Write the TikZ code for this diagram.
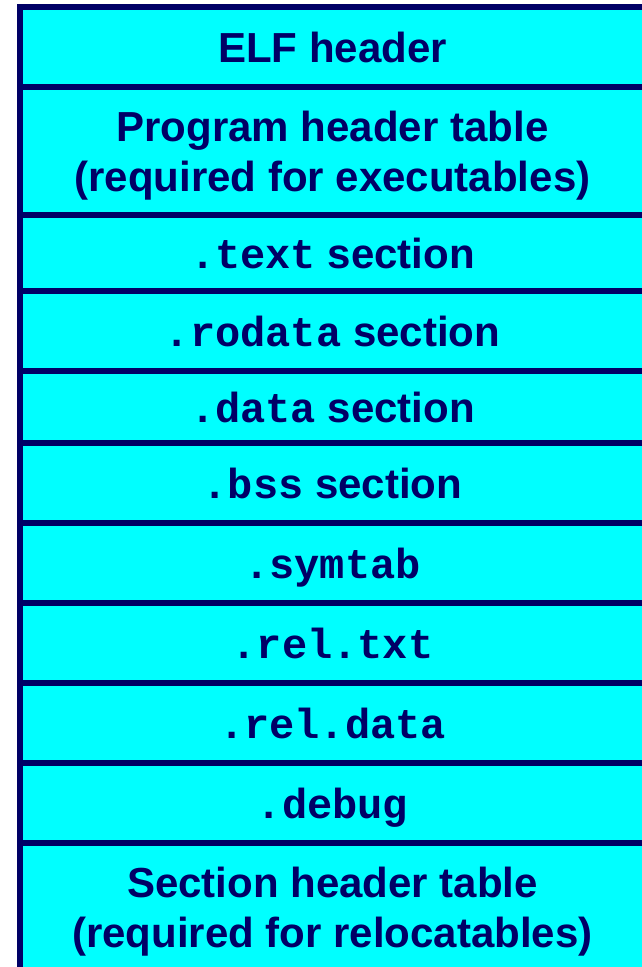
\documentclass[tikz,border=0pt]{standalone}
\usepackage{fontspec}
\setmainfont{Liberation Sans}
\setmonofont{Liberation Mono}
\usetikzlibrary{positioning}
\definecolor{elfnavy}{RGB}{0,0,102}
\definecolor{elfcyan}{RGB}{0,255,255}
\tikzset{
  row/.style={draw=elfnavy, fill=elfcyan, line width=6pt, outer sep=0pt,
    inner sep=0pt, minimum width=625pt, text=elfnavy, align=center,
    text depth=0pt, font=\fontsize{42}{50}\selectfont\bfseries},
}
\begin{document}
\begin{tikzpicture}[x=1pt, y=-1pt]
      \useasboundingbox (0,0) rectangle (641,967);
      \node[row, minimum height=80pt, anchor=north west] (elf) at (20,7) {ELF header};
      \node[row, minimum height=128pt, below=0pt of elf] (pht)
        {Program header table\\(required for executables)};
      \node[row, minimum height=76pt, below=0pt of pht] (text) {{\ttfamily .text} section};
      \node[row, minimum height=80pt, below=0pt of text] (rodata) {{\ttfamily .rodata} section};
      \node[row, minimum height=72pt, below=0pt of rodata] (data) {{\ttfamily .data} section};
      \node[row, minimum height=80pt, below=0pt of data] (bss) {{\ttfamily .bss} section};
      \node[row, minimum height=80pt, below=0pt of bss] (symtab) {\ttfamily .symtab};
      \node[row, minimum height=80pt, below=0pt of symtab] (reltxt) {\ttfamily .rel.txt};
      \node[row, minimum height=80pt, below=0pt of reltxt] (reldata) {\ttfamily .rel.data};
      \node[row, minimum height=80pt, below=0pt of reldata] (debug) {\ttfamily .debug};
      \node[row, minimum height=128pt, below=0pt of debug] (sht)
        {Section header table\\(required for relocatables)};
    \end{tikzpicture}
\end{document}
